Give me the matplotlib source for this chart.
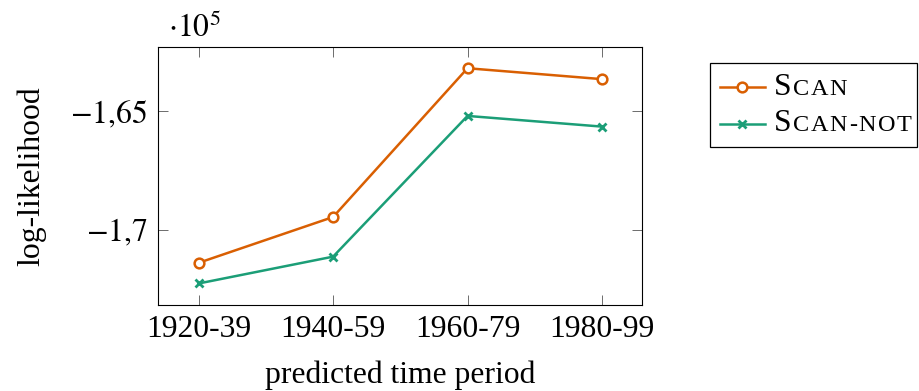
import matplotlib

matplotlib.use("Agg")

import matplotlib.pyplot as plt
from matplotlib.lines import Line2D
from matplotlib.patches import Rectangle
from matplotlib.ticker import FuncFormatter, FixedLocator

plt.rcParams["font.family"] = ["Liberation Serif", "DejaVu Serif"]
plt.rcParams["mathtext.fontset"] = "stix"

periods = ["1920-39", "1940-59", "1960-79", "1980-99"]
scan = [-171400, -169470, -163200, -163660]
scan_not = [-172270, -171140, -165210, -165660]
series_names = [("S", "CAN"), ("S", "CAN-NOT")]

ORANGE = "#d95f02"
TEAL = "#1b9e77"
FS = 22.8
FS_SMALL = 17.5

W, H = 920, 391
fig = plt.figure(figsize=(W / 100, H / 100), dpi=100)
ax = fig.add_axes([158.3 / W, 86 / H, 484 / W, 258.3 / H])

xs = list(range(len(periods)))
ax.plot(xs, scan, color=ORANGE, lw=1.8, marker="o", ms=7, mew=1.8,
        mfc="white", mec=ORANGE, zorder=3)
ax.plot(xs, scan_not, color=TEAL, lw=1.8, marker="x", ms=5.5, mew=2.0,
        zorder=3)

# pgfplots-like limits: 10% padding on both axes
ax.set_xlim(-0.3, 3.3)
lo = min(scan_not)
hi = max(scan)
span = hi - lo
ax.set_ylim(lo - 0.1 * span, hi + 0.1 * span)


def fmt(v, _):
    s = f"{v / 1e5:g}".replace(".", "{,}")
    return f"${s}$"


ax.set_xticks(xs)
ax.set_xticklabels(periods)
ax.yaxis.set_major_locator(FixedLocator([-170000, -165000]))
ax.yaxis.set_major_formatter(FuncFormatter(fmt))
ax.tick_params(direction="in", length=7, width=0.6, top=True, right=True,
               labelsize=FS, color="#555555")
ax.tick_params(axis="x", pad=7)
ax.tick_params(axis="y", pad=8)
for sp in ax.spines.values():
    sp.set_linewidth(0.8)

fig.text(168 / W, 1 - 37 / H, r"$\cdot 10^5$", fontsize=FS, va="baseline", ha="left")
fig.text(32 / W, 1 - 176 / H, "log-likelihood", rotation=90, fontsize=FS,
         ha="center", va="center")
fig.text(400 / W, 1 - 383 / H, "predicted time period", fontsize=FS,
         ha="center", va="baseline")

# legend box with small-caps entries
fig.add_artist(Rectangle((710 / W, 1 - 146.7 / H), (917 - 710) / W, (146.7 - 63.3) / H,
                         transform=fig.transFigure, fill=False, lw=0.9, ec="black"))
entries = [
    (86.7, 95, dict(color=ORANGE, marker="o", ms=7, mew=1.8, mfc="white", mec=ORANGE)),
    (124, 131, dict(color=TEAL, marker="x", ms=5.5, mew=2.0)),
]
renderer = fig.canvas.get_renderer()
for (ly, by, style), (big, small) in zip(entries, series_names):
    fig.add_artist(Line2D([720 / W, 765 / W], [1 - ly / H] * 2, lw=1.8,
                          transform=fig.transFigure, markevery=[], **style))
    fig.add_artist(Line2D([742.5 / W], [1 - ly / H], lw=0, transform=fig.transFigure,
                          **style))
    t = fig.text(774 / W, 1 - by / H, big, fontsize=FS, va="baseline", ha="left")
    x = t.get_window_extent(renderer).x1 + 1.5
    # small caps set letter by letter with a little tracking
    for ch in small:
        c = fig.text(x / W, 1 - by / H, ch, fontsize=FS_SMALL, va="baseline", ha="left")
        x = c.get_window_extent(renderer).x1 + 1.5
        if ch == "-":
            x += 0.5

fig.savefig("out.png", dpi=100)
